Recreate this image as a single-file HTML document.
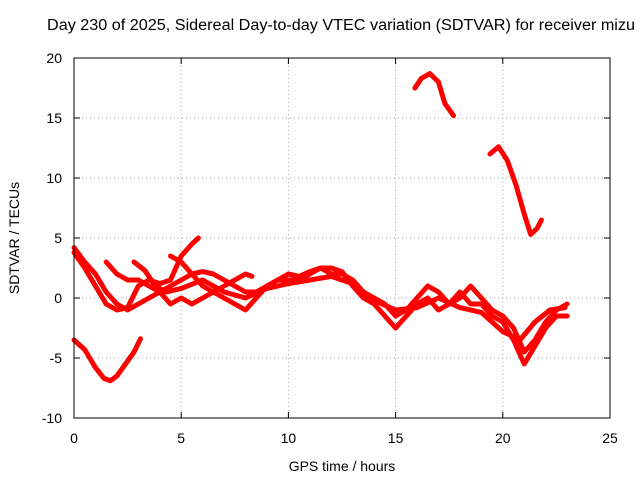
<!DOCTYPE html>
<html><head><meta charset="utf-8"><style>
body{margin:0;background:#fff}
svg{display:block;font-family:"Liberation Sans",sans-serif}
</style></head><body>
<svg id="chart" width="640" height="480" xmlns="http://www.w3.org/2000/svg">
<text x="47" y="30" font-size="15.5" textLength="588" lengthAdjust="spacingAndGlyphs">Day 230 of 2025, Sidereal Day-to-day VTEC variation (SDTVAR) for receiver mizu</text>
<g id="grid"></g>
<g id="ticks"></g>
<g id="series"></g>
<rect x="74" y="58" width="536" height="360" fill="none" stroke="#000"/>
<text x="342" y="471" font-size="14" text-anchor="middle">GPS time / hours</text>
<text transform="translate(19,238) rotate(-90)" font-size="14" text-anchor="middle">SDTVAR / TECUs</text>
</svg>
<script>
const xTicks=[0,5,10,15,20,25];
const yTicks=[-10,-5,0,5,10,15,20];
const s1=[[0,-3.5],[0.5,-4.3],[1,-5.8],[1.4,-6.7],[1.7,-6.9],[2.0,-6.5],[2.4,-5.5],[2.8,-4.5],[3.1,-3.4]];
const s2=[[15.9,17.5],[16.2,18.3],[16.6,18.7],[17.0,18.0],[17.3,16.2],[17.7,15.2]];
const s3=[[19.4,12.0],[19.8,12.6],[20.2,11.5],[20.6,9.5],[21.0,7.0],[21.3,5.3],[21.6,5.8],[21.8,6.5]];
const sA=[[0,4.2],[0.5,3],[1,2],[1.5,0.5],[2,-0.5],[2.5,-1],[3,-0.5],[3.5,0],[4,0.5],[4.5,1],[5,1.5],[5.5,2],[6,2.2],[6.5,2],[7,1.5],[7.5,1],[8,0.5],[8.5,0.5],[9,1],[9.5,1.5],[10,2],[10.5,1.8],[11,2.2],[11.5,2.5],[12,2],[12.5,2],[13,1.5],[13.5,0.5],[14,0],[14.5,-0.5],[15,-1.5],[15.5,-1],[16,0],[16.5,1],[17,0.5],[17.5,-0.5],[18,0],[18.5,1],[19,0],[19.5,-1],[20,-1.5],[20.5,-2.5],[21,-4.5],[21.5,-3.5],[22,-2],[22.5,-1],[23,-0.5]];
const sB=[[0,3.8],[0.5,2.5],[1,1],[1.5,-0.5],[2,-1],[2.5,-0.8],[3,1],[3.5,1.5],[4,1.2],[4.5,1.5],[5,3.5],[5.5,4.5],[5.8,5]];
const sC=[[4.5,3.5],[5,3],[5.5,2],[6,1],[6.5,0.5],[7,0],[7.5,-0.5],[8,-1],[8.5,0],[9,1],[9.5,1.5],[10,1.5],[10.5,1.5],[11,2],[11.5,2.5],[12,2.5],[12.5,2.2],[13,1],[13.5,0],[14,-0.5],[14.5,-1.5],[15,-2.5],[15.5,-1.5],[16,-0.5],[16.5,0],[17,-1],[17.5,-0.5],[18,0.5],[18.5,-0.5],[19,-0.5],[19.5,-1.5],[20,-2],[20.5,-3.5],[21,-5.5],[21.5,-4],[22,-2.5],[22.5,-1.5],[23,-1.5]];
const sD=[[1.5,3],[2,2],[2.5,1.5],[3,1.5],[3.5,1],[4,0.5],[4.5,-0.5],[5,0],[5.5,-0.5],[6,0],[6.5,0.5],[7,1],[7.5,1.5],[8,2],[8.3,1.8]];
const sE=[[2.8,3],[3.3,2.3],[3.8,1],[4.3,0.5],[5,0.8],[6,1.5],[7,0.5],[8,0],[9,0.8],[10,1.2],[11,1.5],[12,1.8],[13,1.2],[14,-0.2],[15,-1],[16,-0.8],[17,0],[18,-0.8],[19,-1.2],[20,-2.8],[20.8,-3.5],[21.5,-2],[22.2,-1],[22.9,-0.8]];
const seriesList=[s1,s2,s3,sA,sB,sC,sD,sE];
const X0=74,X1=610,Y0=418,Y1=58;
const xs=v=>X0+(v-0)/(25-0)*(X1-X0);
const ys=v=>Y0-(v+10)/(30)*(Y0-Y1);
const NS="http://www.w3.org/2000/svg";
const grid=document.getElementById('grid'),ticks=document.getElementById('ticks'),ser=document.getElementById('series');
function mk(tag,attrs,parent){const e=document.createElementNS(NS,tag);for(const k in attrs)e.setAttribute(k,attrs[k]);parent.appendChild(e);return e;}
xTicks.forEach(t=>{const x=xs(t);
 if(t>0&&t<25){const g=mk('line',{x1:x,x2:x,y1:Y1,y2:Y0,stroke:'#a0a0a0','stroke-dasharray':'1,3'},grid);
 
 }
 mk('line',{x1:x,x2:x,y1:Y0,y2:Y0-6,stroke:'#000'},ticks);mk('line',{x1:x,x2:x,y1:Y1,y2:Y1+6,stroke:'#000'},ticks);
 const l=mk('text',{x:x,y:443,'font-size':14,'text-anchor':'middle'},ticks);l.textContent=t;
 
 });
yTicks.forEach(t=>{const y=ys(t);
 if(t>-10&&t<20){const g=mk('line',{x1:X0,x2:X1,y1:y,y2:y,stroke:'#a0a0a0','stroke-dasharray':'1,3'},grid);
 
 }
 mk('line',{x1:X0,x2:X0+6,y1:y,y2:y,stroke:'#000'},ticks);mk('line',{x1:X1,x2:X1-6,y1:y,y2:y,stroke:'#000'},ticks);
 const l=mk('text',{x:62,y:y+5,'font-size':14,'text-anchor':'end'},ticks);l.textContent=t;
 
 });
seriesList.forEach(s=>{const p=mk('polyline',{points:s.map(d=>xs(d[0])+','+ys(d[1])).join(' '),fill:'none',stroke:'#ff0000','stroke-width':5,'stroke-linejoin':'round','stroke-linecap':'round'},ser);
 
 });
</script>
</body></html>
